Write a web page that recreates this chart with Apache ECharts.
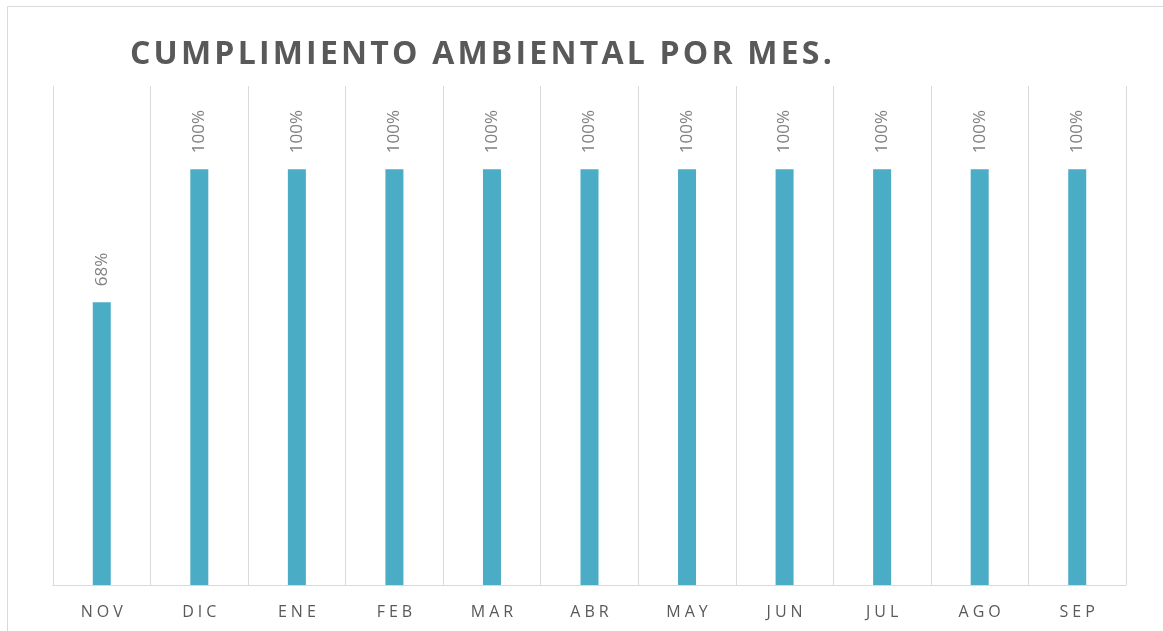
<!DOCTYPE html>
<html>
<head>
<meta charset="utf-8">
<script src="https://cdn.jsdelivr.net/npm/echarts@6/dist/echarts.min.js"></script>
<style>
  html, body { margin: 0; padding: 0; background: #fff; }
  #chart { width: 1163px; height: 631px; }
</style>
</head>
<body>
<div id="chart"></div>
<script>
// datos
var months = ['NOV', 'DIC', 'ENE', 'FEB', 'MAR', 'ABR', 'MAY', 'JUN', 'JUL', 'AGO', 'SEP'];
var cumplimiento = [0.68, 1, 1, 1, 1, 1, 1, 1, 1, 1, 1];
var titleText = 'CUMPLIMIENTO AMBIENTAL POR MES.';

// espaciado entre letras (echarts no tiene letterSpacing)
function spaced(s, sep) {
  return s.split('').join(sep);
}

var chart = echarts.init(document.getElementById('chart'));

chart.setOption({
  animation: false,
  backgroundColor: '#fff',
  title: {
    text: spaced(titleText, '\u200A'),
    left: 125,
    top: 34,
    textStyle: {
      fontFamily: 'Open Sans',
      fontWeight: 'bold',
      fontSize: 32,
      color: '#595959'
    }
  },
  graphic: [{
    type: 'rect',
    shape: { x: 7.5, y: 6.5, width: 1170, height: 640 },
    style: { fill: 'none', stroke: '#d9d9d9', lineWidth: 1 },
    silent: true
  }],
  grid: { left: 53, right: 37, top: 86, bottom: 46 },
  xAxis: {
    type: 'category',
    data: months,
    axisTick: { show: false },
    axisLine: { lineStyle: { color: '#d9d9d9', width: 1 } },
    splitLine: { show: true, lineStyle: { color: '#d9d9d9', width: 1 } },
    axisLabel: {
      margin: 19,
      fontFamily: 'Open Sans',
      fontSize: 16,
      color: '#595959',
      formatter: function (v) { return spaced(v, '\u2005'); }
    }
  },
  yAxis: {
    type: 'value',
    min: 0,
    max: 1.2,
    show: false,
    splitLine: { show: false }
  },
  series: [{
    type: 'bar',
    data: cumplimiento,
    barWidth: 18,
    itemStyle: { color: '#4BACC6' },
    label: {
      show: true,
      position: 'top',
      rotate: 90,
      align: 'left',
      verticalAlign: 'middle',
      distance: 16,
      fontFamily: 'Open Sans',
      fontSize: 17,
      color: '#808080',
      formatter: function (p) { return Math.round(p.value * 100) + '%'; }
    }
  }]
});
</script>
</body>
</html>
